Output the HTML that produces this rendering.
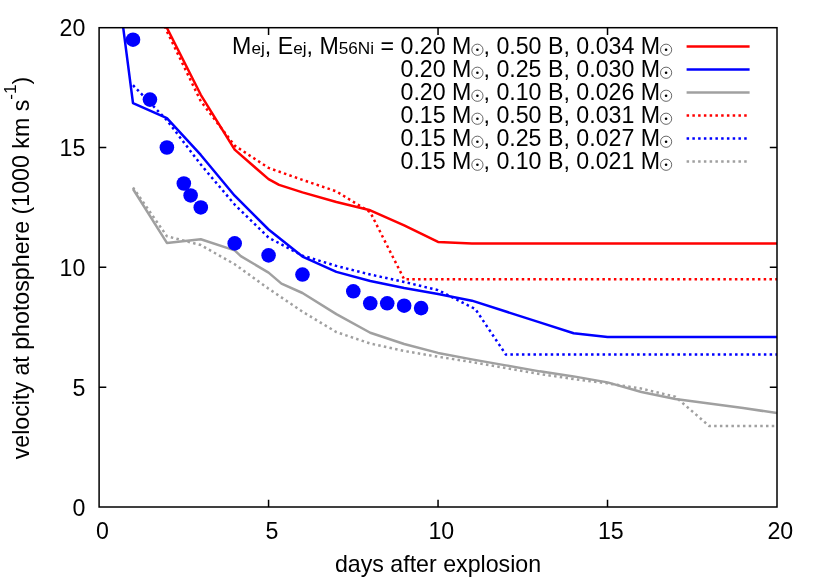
<!DOCTYPE html><html><head><meta charset="utf-8"><title>plot</title>
<style>html,body{margin:0;padding:0;background:#fff;overflow:hidden}svg{display:block;will-change:transform}text{font-family:"Liberation Sans",sans-serif;fill:#000}</style></head><body>
<svg width="830" height="581" viewBox="0 0 830 581">
<rect width="830" height="581" fill="#fff"/>
<defs><clipPath id="c"><rect x="99.10" y="27.70" width="677.90" height="479.30"/></clipPath></defs>
<path d="M268.57,507.00v-7.20 M268.57,27.70v7.20 M99.10,387.18h7.20 M777.00,387.18h-7.20 M438.05,507.00v-7.20 M438.05,27.70v7.20 M99.10,267.35h7.20 M777.00,267.35h-7.20 M607.52,507.00v-7.20 M607.52,27.70v7.20 M99.10,147.52h7.20 M777.00,147.52h-7.20" stroke="#000" stroke-width="1.5" fill="none"/>
<text x="85.30" y="515.50" font-size="23.2" text-anchor="end">0</text>
<text x="102.40" y="538.50" font-size="23.2" text-anchor="middle">0</text>
<text x="85.30" y="395.68" font-size="23.2" text-anchor="end">5</text>
<text x="271.88" y="538.50" font-size="23.2" text-anchor="middle">5</text>
<text x="85.30" y="275.85" font-size="23.2" text-anchor="end">10</text>
<text x="441.35" y="538.50" font-size="23.2" text-anchor="middle">10</text>
<text x="85.30" y="156.02" font-size="23.2" text-anchor="end">15</text>
<text x="610.82" y="538.50" font-size="23.2" text-anchor="middle">15</text>
<text x="85.30" y="36.20" font-size="23.2" text-anchor="end">20</text>
<text x="780.30" y="538.50" font-size="23.2" text-anchor="middle">20</text>
<g clip-path="url(#c)" fill="none" stroke-width="2.50" stroke-linejoin="round">
<path d="M133.00,-56.18 L166.89,27.70 L200.78,94.80 L234.68,149.68 L268.57,179.16 L279.08,184.91 L302.47,192.34 L336.37,201.93 L370.26,210.31 L404.15,225.41 L438.05,241.95 L471.94,243.38 L777.00,243.38" stroke="#ff0000"/>
<path d="M116.05,-27.42 L133.00,103.07 L166.89,118.05 L200.78,154.95 L234.68,195.69 L268.57,229.49 L302.47,256.57 L336.37,271.90 L370.26,281.01 L404.15,287.96 L438.05,293.95 L471.94,300.66 L505.84,311.52 L539.73,322.40 L573.63,333.25 L607.52,337.09 L777.00,337.09" stroke="#0000ff"/>
<path d="M133.00,188.98 L166.89,242.91 L200.78,239.31 L234.68,250.33 L240.78,256.09 L268.57,272.62 L281.46,283.65 L302.47,292.99 L336.37,314.08 L370.26,332.77 L404.15,344.04 L438.05,352.91 L471.94,359.38 L505.84,365.37 L539.73,371.36 L573.63,376.39 L607.52,382.38 L641.42,391.97 L675.31,398.92 L709.21,403.47 L743.11,408.02 L777.00,413.06" stroke="#a0a0a0"/>
<path d="M133.00,-47.79 L166.89,31.29 L200.78,101.27 L234.68,145.61 L268.57,167.90 L302.47,179.88 L336.37,191.38 L370.26,212.23 L404.15,279.33 L777.00,279.33" stroke="#ff0000" stroke-dasharray="2.5,3.26"/>
<path d="M133.00,85.22 L166.89,120.20 L200.78,164.54 L234.68,204.56 L268.57,237.63 L302.47,255.61 L336.37,265.91 L370.26,274.54 L404.15,281.97 L438.05,290.12 L475.33,309.05 L505.84,354.58 L777.00,354.58" stroke="#0000ff" stroke-dasharray="2.5,3.26"/>
<path d="M133.00,187.55 L166.89,236.20 L200.78,245.06 L234.68,264.23 L268.57,288.68 L302.47,311.69 L336.37,332.06 L370.26,343.56 L404.15,350.99 L438.05,356.74 L471.94,362.01 L505.84,368.00 L539.73,373.99 L573.63,379.03 L607.52,383.34 L641.42,388.61 L675.31,396.76 L709.21,426.00 L777.00,426.00" stroke="#a0a0a0" stroke-dasharray="2.5,3.26"/>
</g>
<g fill="#0000ff">
<circle cx="133.00" cy="39.68" r="7.3"/>
<circle cx="149.94" cy="99.59" r="7.3"/>
<circle cx="166.89" cy="147.52" r="7.3"/>
<circle cx="183.84" cy="183.47" r="7.3"/>
<circle cx="190.62" cy="195.45" r="7.3"/>
<circle cx="200.78" cy="207.44" r="7.3"/>
<circle cx="234.68" cy="243.38" r="7.3"/>
<circle cx="268.57" cy="255.37" r="7.3"/>
<circle cx="302.47" cy="274.54" r="7.3"/>
<circle cx="353.31" cy="291.31" r="7.3"/>
<circle cx="370.26" cy="303.30" r="7.3"/>
<circle cx="387.21" cy="303.30" r="7.3"/>
<circle cx="404.15" cy="305.69" r="7.3"/>
<circle cx="421.10" cy="308.09" r="7.3"/>
</g>
<text x="660.10" y="53.70" font-size="23.2" text-anchor="end">, 0.50 B, 0.034 M</text>
<circle cx="666.10" cy="49.75" r="5.6" fill="none" stroke="#222" stroke-width="0.68"/><circle cx="666.10" cy="49.75" r="1.3" fill="#000"/>
<circle cx="477.41" cy="49.75" r="5.6" fill="none" stroke="#222" stroke-width="0.68"/><circle cx="477.41" cy="49.75" r="1.3" fill="#000"/>
<text x="471.41" y="53.70" font-size="23.2" text-anchor="end">M<tspan font-size="17.2">ej</tspan>, E<tspan font-size="17.2">ej</tspan>, M<tspan font-size="17.2">56Ni</tspan> = 0.20 M</text>
<path d="M686.6,46.40H749.6" stroke="#ff0000" stroke-width="2.50" fill="none"/>
<text x="660.10" y="76.70" font-size="23.2" text-anchor="end">, 0.25 B, 0.030 M</text>
<circle cx="666.10" cy="72.75" r="5.6" fill="none" stroke="#222" stroke-width="0.68"/><circle cx="666.10" cy="72.75" r="1.3" fill="#000"/>
<circle cx="477.41" cy="72.75" r="5.6" fill="none" stroke="#222" stroke-width="0.68"/><circle cx="477.41" cy="72.75" r="1.3" fill="#000"/>
<text x="471.41" y="76.70" font-size="23.2" text-anchor="end">0.20 M</text>
<path d="M686.6,69.40H749.6" stroke="#0000ff" stroke-width="2.50" fill="none"/>
<text x="660.10" y="99.70" font-size="23.2" text-anchor="end">, 0.10 B, 0.026 M</text>
<circle cx="666.10" cy="95.75" r="5.6" fill="none" stroke="#222" stroke-width="0.68"/><circle cx="666.10" cy="95.75" r="1.3" fill="#000"/>
<circle cx="477.41" cy="95.75" r="5.6" fill="none" stroke="#222" stroke-width="0.68"/><circle cx="477.41" cy="95.75" r="1.3" fill="#000"/>
<text x="471.41" y="99.70" font-size="23.2" text-anchor="end">0.20 M</text>
<path d="M686.6,92.40H749.6" stroke="#a0a0a0" stroke-width="2.50" fill="none"/>
<text x="660.10" y="122.70" font-size="23.2" text-anchor="end">, 0.50 B, 0.031 M</text>
<circle cx="666.10" cy="118.75" r="5.6" fill="none" stroke="#222" stroke-width="0.68"/><circle cx="666.10" cy="118.75" r="1.3" fill="#000"/>
<circle cx="477.41" cy="118.75" r="5.6" fill="none" stroke="#222" stroke-width="0.68"/><circle cx="477.41" cy="118.75" r="1.3" fill="#000"/>
<text x="471.41" y="122.70" font-size="23.2" text-anchor="end">0.15 M</text>
<path d="M686.6,115.40H749.6" stroke="#ff0000" stroke-width="2.50" fill="none" stroke-dasharray="2.5,3.26"/>
<text x="660.10" y="145.70" font-size="23.2" text-anchor="end">, 0.25 B, 0.027 M</text>
<circle cx="666.10" cy="141.75" r="5.6" fill="none" stroke="#222" stroke-width="0.68"/><circle cx="666.10" cy="141.75" r="1.3" fill="#000"/>
<circle cx="477.41" cy="141.75" r="5.6" fill="none" stroke="#222" stroke-width="0.68"/><circle cx="477.41" cy="141.75" r="1.3" fill="#000"/>
<text x="471.41" y="145.70" font-size="23.2" text-anchor="end">0.15 M</text>
<path d="M686.6,138.40H749.6" stroke="#0000ff" stroke-width="2.50" fill="none" stroke-dasharray="2.5,3.26"/>
<text x="660.10" y="168.70" font-size="23.2" text-anchor="end">, 0.10 B, 0.021 M</text>
<circle cx="666.10" cy="164.75" r="5.6" fill="none" stroke="#222" stroke-width="0.68"/><circle cx="666.10" cy="164.75" r="1.3" fill="#000"/>
<circle cx="477.41" cy="164.75" r="5.6" fill="none" stroke="#222" stroke-width="0.68"/><circle cx="477.41" cy="164.75" r="1.3" fill="#000"/>
<text x="471.41" y="168.70" font-size="23.2" text-anchor="end">0.15 M</text>
<path d="M686.6,161.40H749.6" stroke="#a0a0a0" stroke-width="2.50" fill="none" stroke-dasharray="2.5,3.26"/>
<text x="438.00" y="572.30" font-size="23.2" text-anchor="middle">days after explosion</text>
<text transform="translate(29,268) rotate(-90)" font-size="23.2" text-anchor="middle">velocity at photosphere (1000 km s<tspan font-size="17.2" dy="-13.2">-1</tspan><tspan dy="13.2">)</tspan></text>
<rect x="99.10" y="27.70" width="677.90" height="479.30" fill="none" stroke="#000" stroke-width="1.5"/>
</svg></body></html>
